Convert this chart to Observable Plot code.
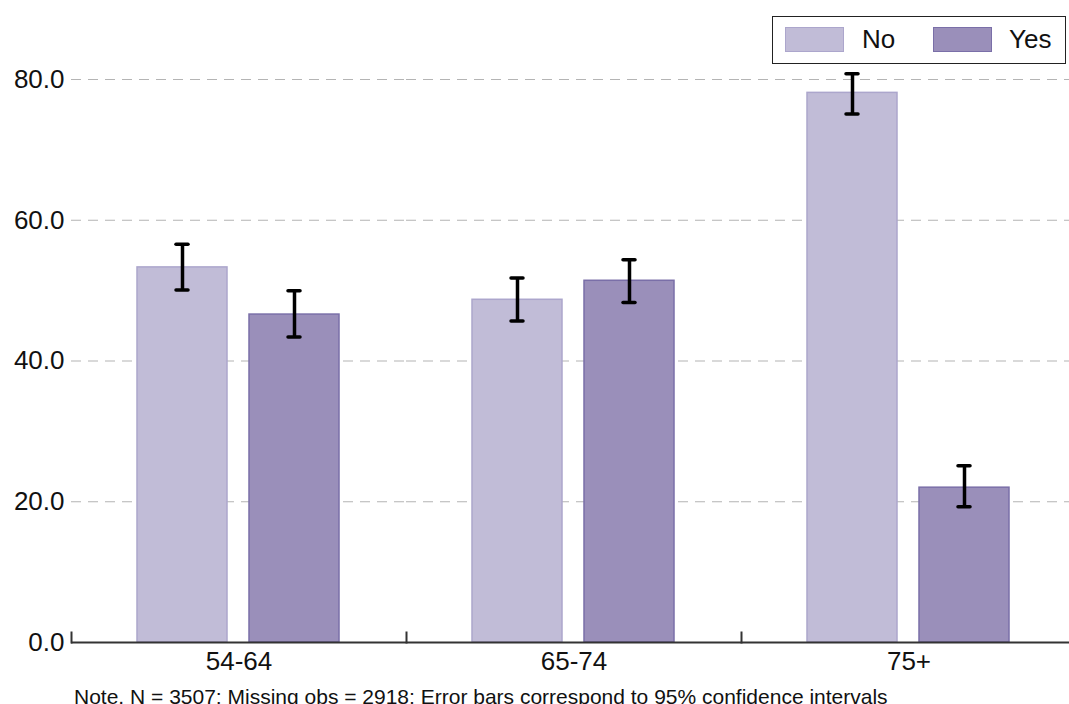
<!DOCTYPE html>
<html>
<head>
<meta charset="utf-8">
<script src="https://cdn.jsdelivr.net/npm/d3@7"></script>
<script src="https://cdn.jsdelivr.net/npm/@observablehq/plot@0.6"></script>
<style>
  html, body { margin: 0; padding: 0; overflow: hidden; background: #fff; width: 1069px; height: 704px; }
  #wrap { position: relative; width: 1069px; height: 704px; overflow: hidden; font-family: "Liberation Sans", Arial, sans-serif; }
  #chart { position: absolute; left: 0; top: 0; width: 1069px; height: 704px; overflow: hidden; }
  #legend { position: absolute; left: 772px; top: 16px; width: 292px; height: 46px; border: 1.5px solid #222; background: #fff; }
  .sw { position: absolute; top: 10px; width: 59px; height: 25px; box-sizing: border-box; }
  .lt { position: absolute; top: 7px; font-size: 26px; line-height: 30px; color: #111; }
  #note { position: absolute; left: 74px; top: 686px; font-size: 21px; line-height: 21px; color: #111; white-space: nowrap; }
</style>
</head>
<body>
<div id="wrap">
  <div id="chart"></div>
  <div id="legend"></div>
  <div id="note">Note. N = 3507; Missing obs = 2918; Error bars correspond to 95% confidence intervals</div>
</div>
<script>
const groups = ["54-64", "65-74", "75+"];
const series = ["No", "Yes"];
const noMean = [53.3, 48.7, 78.1];
const noLow  = [50.1, 45.7, 75.1];
const noHigh = [56.6, 51.8, 80.8];
const yesMean = [46.6, 51.4, 22.0];
const yesLow  = [43.4, 48.3, 19.3];
const yesHigh = [50.0, 54.4, 25.1];
const yTicks = [0, 20, 40, 60, 80];
const fills = {No: "#c1bcd7", Yes: "#9a8fba"};
const strokes = {No: "#aca6cc", Yes: "#7a6fa8"};

const data = [];
groups.forEach((g, i) => {
  data.push({group: g, series: "No", mean: noMean[i], lo: noLow[i], hi: noHigh[i]});
  data.push({group: g, series: "Yes", mean: yesMean[i], lo: yesLow[i], hi: yesHigh[i]});
});

const plot = Plot.plot({
  width: 1069,
  height: 704,
  marginLeft: 70,
  marginRight: 0,
  marginTop: 79,
  marginBottom: 62,
  style: {fontFamily: "Liberation Sans, Arial, sans-serif", fontSize: "26px", color: "#111", background: "transparent", overflow: "hidden"},
  fx: {domain: groups, padding: 0, range: [70, 1076], label: null, tickSize: 0, tickPadding: 9},
  x: {domain: series, paddingInner: 0.196, paddingOuter: 0.589, axis: null},
  y: {domain: [0, 80], ticks: yTicks, tickFormat: d => d.toFixed(1), tickSize: 0, tickPadding: 7, label: null},
  color: {domain: series, range: series.map(s => fills[s])},
  marks: [
    Plot.gridY(yTicks.filter(d => d > 0), {stroke: "#b4b4b4", strokeOpacity: 1, strokeWidth: 1.2, strokeDasharray: "10,7"}),
    Plot.barY(data, {fx: "group", x: "series", y: "mean", fill: "series", stroke: d => strokes[d.series], strokeWidth: 1.5}),
    Plot.ruleX(data, {fx: "group", x: "series", y1: "lo", y2: "hi", stroke: "#000", strokeWidth: 3.5}),
    Plot.tickY(data, {fx: "group", x: "series", y: "lo", stroke: "#000", strokeWidth: 3.5, strokeLinecap: "round", insetLeft: 39, insetRight: 39}),
    Plot.tickY(data, {fx: "group", x: "series", y: "hi", stroke: "#000", strokeWidth: 3.5, strokeLinecap: "round", insetLeft: 39, insetRight: 39}),
    Plot.ruleY([0], {stroke: "#333", strokeWidth: 2}),
    Plot.frame({anchor: "left", stroke: "#333", strokeWidth: 2, insetTop: 553})
  ]
});
plot.style.display = "block";
document.getElementById("chart").appendChild(plot);

const legend = document.getElementById("legend");
const swLeft = {No: 12, Yes: 160};
const txLeft = {No: 89, Yes: 236};
series.forEach(s => {
  const sw = document.createElement("div");
  sw.className = "sw";
  sw.style.left = swLeft[s] + "px";
  sw.style.background = fills[s];
  sw.style.border = "1.5px solid " + strokes[s];
  legend.appendChild(sw);
  const t = document.createElement("div");
  t.className = "lt";
  t.style.left = txLeft[s] + "px";
  t.textContent = s;
  legend.appendChild(t);
});
</script>
</body>
</html>
